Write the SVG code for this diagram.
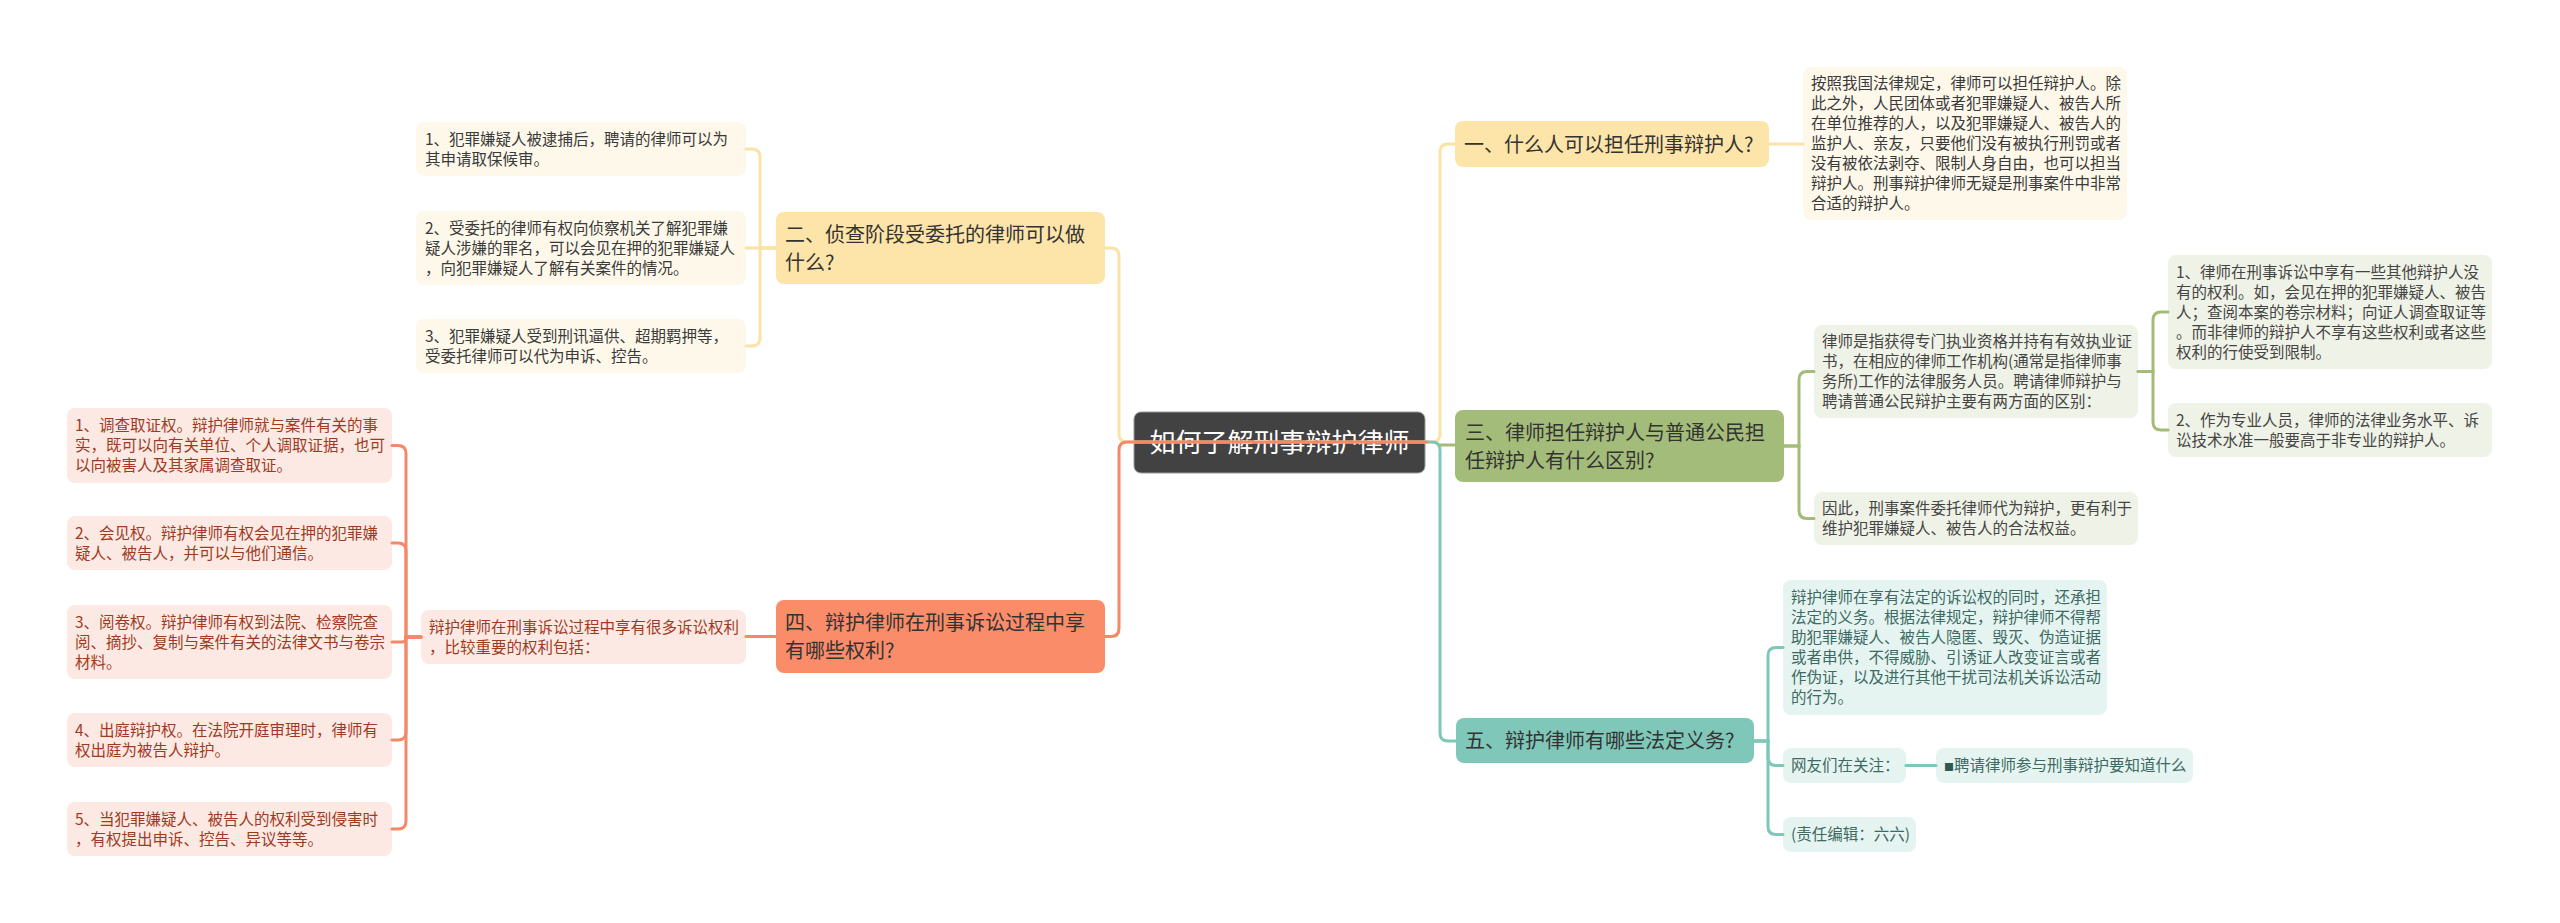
<svg xmlns="http://www.w3.org/2000/svg" width="2560" height="923" viewBox="0 0 2560 923">
<style>
text{font-family:"Noto Sans CJK SC","Noto Sans",sans-serif;}
.leaf{font-size:15.5px;}
.br{font-size:20px;fill:#333;}
.ln{fill:none;stroke-width:3;stroke-linecap:round;}
.y{stroke:#fbe2a6;} .o{stroke:#f4896a;} .g{stroke:#a4bc79;} .t{stroke:#7fc7b8;}
.fy{fill:#fdf8ea;} .fo{fill:#fde9e3;} .fg{fill:#eff2e6;} .ft{fill:#e5f4f1;}
.ty{fill:#3a3a3a;} .to{fill:#a03a1f;} .tg{fill:#454545;} .tt{fill:#3d6a62;}
</style>
<rect width="2560" height="923" fill="#ffffff"/>

<g id="center">
<rect x="1134" y="412" width="291" height="61" rx="7" fill="#424242" stroke="#9a9a9a" stroke-width="1"/>
<text x="1279.5" y="452" text-anchor="middle" font-size="26" fill="#ffffff">如何了解刑事辩护律师</text>
</g>

<g id="b1">
<rect x="1455" y="121" width="314" height="46" rx="8" fill="#fde4a9"/>
<text class="br" x="1464" y="151.6">一、什么人可以担任刑事辩护人?</text>
</g>
<g id="b2">
<rect x="776" y="212" width="329" height="72" rx="8" fill="#fde4a9"/>
<text class="br" x="785" y="241.6">二、侦查阶段受委托的律师可以做</text>
<text class="br" x="785" y="269.6">什么?</text>
</g>
<g id="b3">
<rect x="1455" y="410" width="329" height="72" rx="8" fill="#a4bc79"/>
<text class="br" x="1465" y="439.6">三、律师担任辩护人与普通公民担</text>
<text class="br" x="1465" y="467.6">任辩护人有什么区别?</text>
</g>
<g id="b4">
<rect x="776" y="600" width="329" height="73" rx="8" fill="#fa8c69"/>
<text class="br" x="785" y="630">四、辩护律师在刑事诉讼过程中享</text>
<text class="br" x="785" y="658">有哪些权利?</text>
</g>
<g id="b5">
<rect x="1456" y="718" width="298" height="45" rx="8" fill="#7fc7b8"/>
<text class="br" x="1465" y="748">五、辩护律师有哪些法定义务?</text>
</g>

<g id="l2-1">
<rect class="fy" x="416" y="122" width="330" height="54" rx="8"/>
<text class="leaf ty" x="425" y="144.9">1、犯罪嫌疑人被逮捕后，聘请的律师可以为</text>
<text class="leaf ty" x="425" y="164.9">其申请取保候审。</text>
</g>
<g id="l2-2">
<rect class="fy" x="416" y="211" width="330" height="74" rx="8"/>
<text class="leaf ty" x="425" y="233.9">2、受委托的律师有权向侦察机关了解犯罪嫌</text>
<text class="leaf ty" x="425" y="253.9">疑人涉嫌的罪名，可以会见在押的犯罪嫌疑人</text>
<text class="leaf ty" x="425" y="273.9">，向犯罪嫌疑人了解有关案件的情况。</text>
</g>
<g id="l2-3">
<rect class="fy" x="416" y="319" width="330" height="54" rx="8"/>
<text class="leaf ty" x="425" y="341.9">3、犯罪嫌疑人受到刑讯逼供、超期羁押等，</text>
<text class="leaf ty" x="425" y="361.9">受委托律师可以代为申诉、控告。</text>
</g>

<g id="l4a">
<rect class="fo" x="421" y="610" width="325" height="54" rx="8"/>
<text class="leaf to" x="429" y="632.9">辩护律师在刑事诉讼过程中享有很多诉讼权利</text>
<text class="leaf to" x="429" y="652.9">，比较重要的权利包括：</text>
</g>
<g id="l4-1">
<rect class="fo" x="67" y="408" width="325" height="75" rx="8"/>
<text class="leaf to" x="75" y="431.4">1、调查取证权。辩护律师就与案件有关的事</text>
<text class="leaf to" x="75" y="451.4">实，既可以向有关单位、个人调取证据，也可</text>
<text class="leaf to" x="75" y="471.4">以向被害人及其家属调查取证。</text>
</g>
<g id="l4-2">
<rect class="fo" x="67" y="516" width="325" height="54" rx="8"/>
<text class="leaf to" x="75" y="538.9">2、会见权。辩护律师有权会见在押的犯罪嫌</text>
<text class="leaf to" x="75" y="558.9">疑人、被告人，并可以与他们通信。</text>
</g>
<g id="l4-3">
<rect class="fo" x="67" y="605" width="325" height="74" rx="8"/>
<text class="leaf to" x="75" y="627.9">3、阅卷权。辩护律师有权到法院、检察院查</text>
<text class="leaf to" x="75" y="647.9">阅、摘抄、复制与案件有关的法律文书与卷宗</text>
<text class="leaf to" x="75" y="667.9">材料。</text>
</g>
<g id="l4-4">
<rect class="fo" x="67" y="713" width="325" height="54" rx="8"/>
<text class="leaf to" x="75" y="735.9">4、出庭辩护权。在法院开庭审理时，律师有</text>
<text class="leaf to" x="75" y="755.9">权出庭为被告人辩护。</text>
</g>
<g id="l4-5">
<rect class="fo" x="67" y="802" width="325" height="54" rx="8"/>
<text class="leaf to" x="75" y="824.9">5、当犯罪嫌疑人、被告人的权利受到侵害时</text>
<text class="leaf to" x="75" y="844.9">，有权提出申诉、控告、异议等等。</text>
</g>

<g id="l1">
<rect class="fy" x="1803" y="67" width="324" height="153" rx="8"/>
<text class="leaf ty" x="1811" y="89.4">按照我国法律规定，律师可以担任辩护人。除</text>
<text class="leaf ty" x="1811" y="109.4">此之外，人民团体或者犯罪嫌疑人、被告人所</text>
<text class="leaf ty" x="1811" y="129.4">在单位推荐的人，以及犯罪嫌疑人、被告人的</text>
<text class="leaf ty" x="1811" y="149.4">监护人、亲友，只要他们没有被执行刑罚或者</text>
<text class="leaf ty" x="1811" y="169.4">没有被依法剥夺、限制人身自由，也可以担当</text>
<text class="leaf ty" x="1811" y="189.4">辩护人。刑事辩护律师无疑是刑事案件中非常</text>
<text class="leaf ty" x="1811" y="209.4">合适的辩护人。</text>
</g>

<g id="l3a">
<rect class="fg" x="1814" y="325" width="324" height="93" rx="8"/>
<text class="leaf tg" x="1822" y="347.4">律师是指获得专门执业资格并持有有效执业证</text>
<text class="leaf tg" x="1822" y="367.4">书，在相应的律师工作机构(通常是指律师事</text>
<text class="leaf tg" x="1822" y="387.4">务所)工作的法律服务人员。聘请律师辩护与</text>
<text class="leaf tg" x="1822" y="407.4">聘请普通公民辩护主要有两方面的区别：</text>
</g>
<g id="l3b">
<rect class="fg" x="1814" y="492" width="324" height="53" rx="8"/>
<text class="leaf tg" x="1822" y="514.4">因此，刑事案件委托律师代为辩护，更有利于</text>
<text class="leaf tg" x="1822" y="534.4">维护犯罪嫌疑人、被告人的合法权益。</text>
</g>
<g id="l3a1">
<rect class="fg" x="2168" y="255" width="324" height="114" rx="8"/>
<text class="leaf tg" x="2176" y="277.9">1、律师在刑事诉讼中享有一些其他辩护人没</text>
<text class="leaf tg" x="2176" y="297.9">有的权利。如，会见在押的犯罪嫌疑人、被告</text>
<text class="leaf tg" x="2176" y="317.9">人；查阅本案的卷宗材料；向证人调查取证等</text>
<text class="leaf tg" x="2176" y="337.9">。而非律师的辩护人不享有这些权利或者这些</text>
<text class="leaf tg" x="2176" y="357.9">权利的行使受到限制。</text>
</g>
<g id="l3a2">
<rect class="fg" x="2168" y="403" width="324" height="54" rx="8"/>
<text class="leaf tg" x="2176" y="425.9">2、作为专业人员，律师的法律业务水平、诉</text>
<text class="leaf tg" x="2176" y="445.9">讼技术水准一般要高于非专业的辩护人。</text>
</g>

<g id="l5a">
<rect class="ft" x="1783" y="580" width="324" height="135" rx="8"/>
<text class="leaf tt" x="1791" y="603.4">辩护律师在享有法定的诉讼权的同时，还承担</text>
<text class="leaf tt" x="1791" y="623.4">法定的义务。根据法律规定，辩护律师不得帮</text>
<text class="leaf tt" x="1791" y="643.4">助犯罪嫌疑人、被告人隐匿、毁灭、伪造证据</text>
<text class="leaf tt" x="1791" y="663.4">或者串供，不得威胁、引诱证人改变证言或者</text>
<text class="leaf tt" x="1791" y="683.4">作伪证，以及进行其他干扰司法机关诉讼活动</text>
<text class="leaf tt" x="1791" y="703.4">的行为。</text>
</g>
<g id="l5b">
<rect class="ft" x="1783" y="748" width="123" height="35" rx="8"/>
<text class="leaf tt" x="1791" y="771.4">网友们在关注：</text>
</g>
<g id="l5b1">
<rect class="ft" x="1936" y="748" width="257" height="35" rx="8"/>
<text class="leaf tt" x="1944" y="771.4"><tspan font-size="10" fill="#2f5a52">■</tspan>聘请律师参与刑事辩护要知道什么</text>
</g>
<g id="l5c">
<rect class="ft" x="1783" y="817" width="133" height="35" rx="8"/>
<text class="leaf tt" x="1791" y="840.4">(责任编辑：六六)</text>
</g>

<g id="connectors">
<path class="ln y" d="M1427,442 H1127 Q1119,442 1119,434 V256 Q1119,248 1111,248 H1105"/>
<path class="ln y" d="M1425,442 H1432 Q1440,442 1440,434 V152 Q1440,144 1448,144 H1455"/>
<path class="ln t" d="M1425,442 H1432 Q1440,442 1440,450 V733 Q1440,741 1448,741 H1456"/>
<path class="ln g" d="M1440,445 H1455"/>
<path class="ln o" d="M1427,442 H1127 Q1119,442 1119,450 V628.5 Q1119,636.5 1111,636.5 H1105"/>

<path class="ln y" d="M776,248 H760 V157 Q760,149 752,149 H746"/>
<path class="ln y" d="M776,248 H746"/>
<path class="ln y" d="M776,248 H760 V338 Q760,346 752,346 H746"/>

<path class="ln o" d="M776,636.5 H746"/>
<path class="ln o" d="M421,637 H406 V453.5 Q406,445.5 398,445.5 H392"/>
<path class="ln o" d="M421,637 H406 V551 Q406,543 398,543 H392"/>
<path class="ln o" d="M421,637 H406 V638 Q406,642 402,642 H392"/>
<path class="ln o" d="M421,637 H406 V732 Q406,740 398,740 H392"/>
<path class="ln o" d="M421,637 H406 V821 Q406,829 398,829 H392"/>

<path class="ln y" d="M1769,144 H1803"/>

<path class="ln g" d="M1784,446 H1799 V379.5 Q1799,371.5 1807,371.5 H1814"/>
<path class="ln g" d="M1784,446 H1799 V510.5 Q1799,518.5 1807,518.5 H1814"/>
<path class="ln g" d="M2138,371.5 H2153 V320 Q2153,312 2161,312 H2168"/>
<path class="ln g" d="M2138,371.5 H2153 V422 Q2153,430 2161,430 H2168"/>

<path class="ln t" d="M1754,741 H1768 V655.5 Q1768,647.5 1776,647.5 H1783"/>
<path class="ln t" d="M1754,741 H1768 V757.5 Q1768,765.5 1776,765.5 H1783"/>
<path class="ln t" d="M1754,741 H1768 V826.5 Q1768,834.5 1776,834.5 H1783"/>
<path class="ln t" d="M1906,765.5 H1936"/>
</g>
</svg>
